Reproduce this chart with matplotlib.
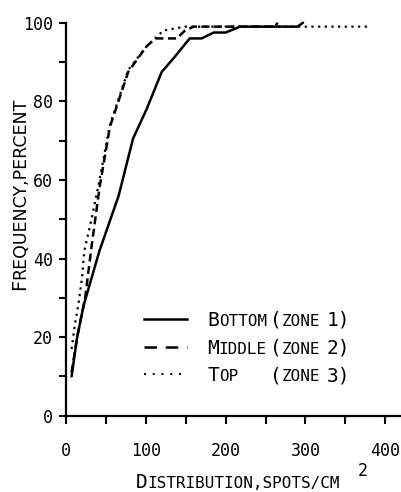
import matplotlib
matplotlib.use("Agg")
import matplotlib.pyplot as plt
from matplotlib.ticker import MultipleLocator
from matplotlib.transforms import IdentityTransform
from matplotlib.lines import Line2D

# Cumulative frequency curves (percent) against spot density
bottom_x = [7, 14, 22, 42, 66, 84, 101, 120, 135, 155, 170, 185, 200, 218, 290, 297]
bottom_y = [10, 20, 28, 42, 56, 70.5, 78, 87.5, 91, 96, 96, 97.5, 97.5, 99, 99, 100]

middle_x = [7, 14, 24, 32, 42, 55, 78, 101, 112, 139, 149, 160, 262, 265]
middle_y = [11, 20, 30, 43, 58, 73.5, 87.5, 94, 96, 96, 98, 99, 99, 100]

top_x = [7, 11, 16, 20, 23, 32, 42, 55, 78, 101, 122, 149, 300, 376, 378]
top_y = [17, 23, 29, 35, 42, 50, 60, 74, 88, 94, 98, 99, 99, 99, 100]

x_ticks = [0, 100, 200, 300, 400]
y_ticks = [0, 20, 40, 60, 80, 100]

W, H, DPI = 402, 492, 100
plt.rcParams["font.family"] = ["DejaVu Sans Mono"]

fig = plt.figure(figsize=(W / DPI, H / DPI), dpi=DPI)
ax = fig.add_axes([66 / W, 76.3 / H, (W - 66) / W, 393 / H])

solid_style = dict(color="black", lw=1.8, linestyle="-", solid_capstyle="round")
dash_style = dict(color="black", lw=1.8, linestyle=(0, (3.2, 1.8)))
dot_style = dict(color="black", lw=1.6, linestyle=(0, (1, 2.0)))

ax.plot(top_x, top_y, clip_on=False, **dot_style)
ax.plot(middle_x, middle_y, clip_on=False, **dash_style)
ax.plot(bottom_x, bottom_y, clip_on=False, **solid_style)

ax.set_xlim(0, 421)
ax.set_ylim(0, 100)
ax.set_xticks(x_ticks)
ax.set_yticks(y_ticks)
ax.xaxis.set_minor_locator(MultipleLocator(50))
ax.yaxis.set_minor_locator(MultipleLocator(10))
ax.tick_params(axis="x", which="both", direction="out", length=6, width=1.5, pad=13, labelsize=12)
ax.tick_params(axis="y", which="both", direction="out", length=5, width=1.5, pad=4.5, labelsize=12)
for side in ("top", "right"):
    ax.spines[side].set_visible(False)
for side in ("left", "bottom"):
    ax.spines[side].set_linewidth(1.6)

renderer = fig.canvas.get_renderer()
PIX = IdentityTransform()


def caps_run(runs, x, y, rotation=0, family=None):
    """Draw a sequence of (text, size, gap) pieces, one after another, sharing a baseline."""
    pos = 0.0
    extra = {} if family is None else {"family": family}
    for s, size, gap in runs:
        pos += gap
        if rotation == 0:
            t = fig.text(x + pos, y, s, fontsize=size, transform=PIX,
                         ha="left", va="baseline", **extra)
            pos += t.get_window_extent(renderer).width
        else:
            t = fig.text(x, y + pos, s, fontsize=size, transform=PIX, rotation=90,
                         rotation_mode="anchor", ha="left", va="baseline", **extra)
            pos += t.get_window_extent(renderer).height
    return pos


BIG, SMALL = 14, 11.5

# Axis titles in small capitals
caps_run([("F", 14, 0), ("REQUENCY,PERCENT", 12.5, 0)], 25.5, 202, rotation=90,
         family="DejaVu Sans")
caps_run([("D", BIG, 0), ("ISTRIBUTION,SPOTS/CM", SMALL, 0)], 136, 4)
fig.text(358, 16, "2", fontsize=12, transform=PIX, ha="left", va="baseline")

# Key
rows = [
    ("B", "OTTOM", "1", dict(color="black", lw=1.8, linestyle="-")),
    ("M", "IDDLE", "2", dict(color="black", lw=1.8, linestyle=(0, (5, 3.5)))),
    ("T", "OP", "3", dict(color="black", lw=1.4, linestyle=(0, (1, 3.5)))),
]
for i, (cap, rest, num, style) in enumerate(rows):
    base = 166 - i * 27.5
    fig.add_artist(Line2D([144, 187], [base + 7, base + 7], transform=PIX, **style))
    caps_run([(cap, BIG, 0), (rest, SMALL, 0)], 207, base)
    caps_run([("(", BIG, 0), ("ZONE", SMALL, 0), (num + ")", BIG, 6)], 270, base)

fig.savefig("out.png", dpi=DPI)
